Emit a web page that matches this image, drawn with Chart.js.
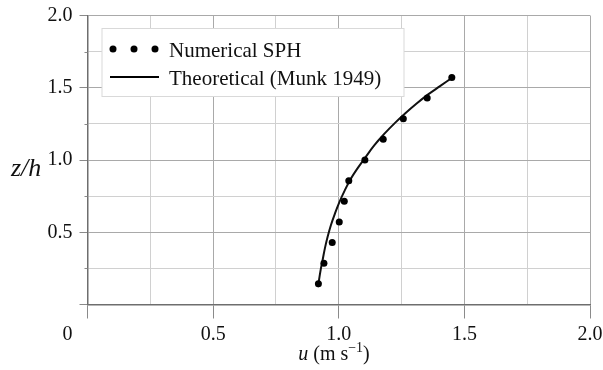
<!DOCTYPE html>
<html>
<head>
<meta charset="utf-8">
<script src="https://cdn.jsdelivr.net/npm/chart.js@4.4.0/dist/chart.umd.min.js"></script>
<style>
    html, body { margin: 0; padding: 0; background: #fff; }
    #wrap { width: 603px; height: 370px; position: relative; }
</style>
</head>
<body>
<div id="wrap"><canvas id="chartProfile"></canvas></div>
<script>
// Numerical SPH points (u in m/s, z/h)
const sphU = [0.919, 0.941, 0.974, 1.002, 1.022, 1.040, 1.104, 1.177, 1.257, 1.352, 1.450];
const sphZ = [0.143, 0.286, 0.429, 0.571, 0.714, 0.857, 1.000, 1.143, 1.286, 1.429, 1.571];

// Theoretical profile (Munk 1949)
const munkU = [0.917, 0.928, 0.936, 0.945, 0.956, 0.969, 0.985, 1.003, 1.024, 1.048, 1.074, 1.101, 1.142, 1.183, 1.224, 1.264, 1.310, 1.356, 1.403, 1.456];
const munkZ = [0.120, 0.240, 0.310, 0.390, 0.470, 0.550, 0.630, 0.710, 0.790, 0.870, 0.940, 1.006, 1.103, 1.184, 1.257, 1.322, 1.391, 1.454, 1.511, 1.575];

const majorTicks = [0, 0.5, 1.0, 1.5, 2.0];
const xTickLabels = ['0', '0.5', '1.0', '1.5', '2.0'];
const yTickLabels = ['', '0.5', '1.0', '1.5', '2.0'];
const seriesLabels = ['Numerical SPH', 'Theoretical (Munk 1949)'];

const SERIF = '"Liberation Serif", "Times New Roman", serif';
const TICK_FONT = 20;

function majorIndex(value) {
    return majorTicks.findIndex(t => Math.abs(t - value) < 1e-6);
}

function gridColor(ctx) {
    const v = ctx.tick ? ctx.tick.value : 0;
    return majorIndex(v) >= 0 ? '#a9a9a9' : '#d0d0d0';
}

function tickColor(ctx) {
    const v = ctx.tick ? ctx.tick.value : 0;
    return majorIndex(v) >= 0 ? '#8a8a8a' : 'rgba(0,0,0,0)';
}

// Axis titles, origin label, minor ticks and the legend box.
const decorPlugin = {
    id: 'decor',
    afterDraw(chart) {
        const { ctx, chartArea, scales } = chart;
        const xs = scales.x;
        const ys = scales.y;
        ctx.save();

        ctx.strokeStyle = '#8a8a8a';
        ctx.lineWidth = 1;
        ys.ticks.forEach(t => {
            if (majorIndex(t.value) >= 0) { return; }
            const py = Math.round(ys.getPixelForValue(t.value)) + 0.5;
            ctx.beginPath();
            ctx.moveTo(chartArea.left - 3, py);
            ctx.lineTo(chartArea.left, py);
            ctx.stroke();
        });

        ctx.fillStyle = '#111';
        ctx.font = TICK_FONT + 'px ' + SERIF;
        ctx.textAlign = 'center';
        ctx.textBaseline = 'middle';
        ctx.fillText(xTickLabels[0], xs.getPixelForValue(0) - 20, xs.top + 14 + 4 + TICK_FONT * 1.2 / 2);

        // x title: u (m s^-1)
        ctx.textAlign = 'left';
        ctx.textBaseline = 'alphabetic';
        const parts = [
            { text: 'u', font: 'italic 20px ' + SERIF, rise: 0 },
            { text: ' (m s', font: '20px ' + SERIF, rise: 0 },
            { text: '\u22121', font: '14px ' + SERIF, rise: 8 },
            { text: ')', font: '20px ' + SERIF, rise: 0 }
        ];
        let total = 0;
        parts.forEach(p => { ctx.font = p.font; p.w = ctx.measureText(p.text).width; total += p.w; });
        let cx = 334 - total / 2;
        parts.forEach(p => {
            ctx.font = p.font;
            ctx.fillText(p.text, cx, 360 - p.rise);
            cx += p.w;
        });

        // y title: z/h
        ctx.font = 'italic 26px ' + SERIF;
        ctx.fillText('z/h', 11, 176);

        // legend
        const bx = chartArea.left + 14.5;
        const by = chartArea.top + 13;
        const bw = 302;
        const bh = 68;
        ctx.fillStyle = '#fff';
        ctx.fillRect(bx, by, bw, bh);
        ctx.strokeStyle = '#d9d9d9';
        ctx.strokeRect(bx, by, bw, bh);

        ctx.fillStyle = '#000';
        [113, 134, 155].forEach(dx => {
            ctx.beginPath();
            ctx.arc(dx, by + 20.5, 3.5, 0, Math.PI * 2);
            ctx.fill();
        });
        ctx.strokeStyle = '#000';
        ctx.lineWidth = 2;
        ctx.beginPath();
        ctx.moveTo(110, by + 48.5);
        ctx.lineTo(159, by + 48.5);
        ctx.stroke();

        ctx.fillStyle = '#111';
        ctx.font = '21px ' + SERIF;
        ctx.fillText(seriesLabels[0], 169, by + 28);
        ctx.fillText(seriesLabels[1], 169, by + 56);

        ctx.restore();
    }
};

document.addEventListener('DOMContentLoaded', () => {
    const ctx = document.getElementById('chartProfile');
    new Chart(ctx, {
        type: 'scatter',
        data: {
            datasets: [
                {
                    label: seriesLabels[0],
                    data: sphU.map((u, i) => ({ x: u, y: sphZ[i] })),
                    pointRadius: 3.5,
                    pointBackgroundColor: '#000',
                    pointBorderWidth: 0,
                    showLine: false,
                    order: 0
                },
                {
                    label: seriesLabels[1],
                    data: munkU.map((u, i) => ({ x: u, y: munkZ[i] })),
                    showLine: true,
                    pointRadius: 0,
                    borderColor: '#111',
                    borderWidth: 2,
                    tension: 0.4,
                    order: 1
                }
            ]
        },
        options: {
            responsive: true,
            maintainAspectRatio: false,
            animation: false,
            layout: { padding: { top: 15.5, right: 13, left: 0, bottom: 0 } },
            plugins: {
                legend: { display: false },
                tooltip: { enabled: false }
            },
            scales: {
                x: {
                    type: 'linear',
                    min: 0,
                    max: 2,
                    afterFit(scale) {
                        scale.height = 65.5;
                        scale.paddingLeft = 0;
                        scale.paddingRight = 0;
                    },
                    grid: { color: gridColor, tickColor: tickColor, tickLength: 14, lineWidth: 1 },
                    border: { color: '#6e6e6e', width: 1.5 },
                    ticks: {
                        stepSize: 0.25,
                        padding: 4,
                        color: '#111',
                        font: { family: SERIF, size: TICK_FONT },
                        maxRotation: 0,
                        autoSkip: false,
                        callback: (value) => {
                            const i = majorIndex(value);
                            return i > 0 ? xTickLabels[i] : '';
                        }
                    }
                },
                y: {
                    type: 'linear',
                    min: 0,
                    max: 2,
                    afterFit(scale) {
                        scale.width = 87.5;
                        scale.paddingTop = 0;
                        scale.paddingBottom = 0;
                    },
                    grid: { color: gridColor, tickColor: tickColor, tickLength: 8, lineWidth: 1 },
                    border: { color: '#6e6e6e', width: 1.5 },
                    ticks: {
                        stepSize: 0.25,
                        padding: 7,
                        color: '#111',
                        font: { family: SERIF, size: TICK_FONT },
                        autoSkip: false,
                        callback: (value) => {
                            const i = majorIndex(value);
                            return i >= 0 ? yTickLabels[i] : '';
                        }
                    }
                }
            }
        },
        plugins: [decorPlugin]
    });
});
</script>
</body>
</html>
